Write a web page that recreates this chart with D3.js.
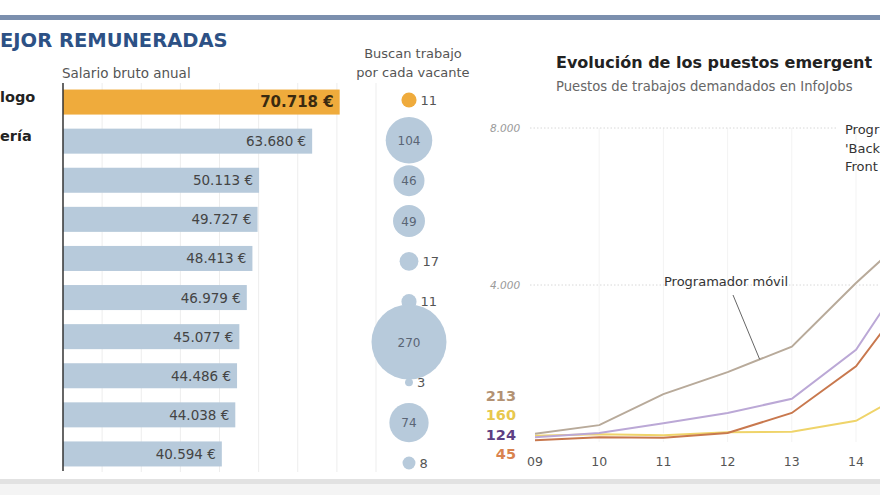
<!DOCTYPE html>
<html><head><meta charset="utf-8">
<script src="https://cdn.jsdelivr.net/npm/d3@7"></script>
<style>
html,body{margin:0;padding:0;background:#fff;}
svg{display:block;font-family:"DejaVu Sans",Verdana,sans-serif;}
</style></head>
<body><svg id="c" width="880" height="495"></svg>
<script>
// ---- data ----
const categories = ["logo","ería","","","","","","","",""];
const salaries = [70718,63680,50113,49727,48413,46979,45077,44486,44038,40594];
const salaryLabels = ["70.718 €","63.680 €","50.113 €","49.727 €","48.413 €","46.979 €","45.077 €","44.486 €","44.038 €","40.594 €"];
const seekers = [11,104,46,49,17,11,270,3,74,8];
const years = [2009,2010,2011,2012,2013,2014,2015];
const yearLabels = ["09","10","11","12","13","14",""];
const movil    = [213,430,1220,1780,2430,4050,5550];
const backend  = [124,230,480,740,1100,2350,4800];
const frontend = [45,120,110,230,740,1930,4100];
const otro     = [160,200,170,250,260,540,1450];
const startLabels = ["213","160","124","45"];
const yTicks = [4000,8000];
const yTickLabels = ["4.000","8.000"];
const backendNote = ["Progr","'Back","Front"];

const svg = d3.select("#c");

// frame
svg.append("rect").attr("x",0).attr("y",15).attr("width",880).attr("height",5).attr("fill","#7b8fae");
svg.append("rect").attr("x",0).attr("y",479).attr("width",880).attr("height",5).attr("fill","#e2e2e2");
svg.append("rect").attr("x",0).attr("y",484).attr("width",880).attr("height",11).attr("fill","#f4f4f4");

// title
svg.append("text").attr("x",0).attr("y",47).text("EJOR REMUNERADAS")
  .attr("font-size",19.5).attr("font-weight","bold").attr("fill","#2d5185");

// ---- bar chart ----
const x = d3.scaleLinear().domain([0,80000]).range([63,376]);
const idx = d3.range(categories.length);
const y = d3.scaleBand().domain(idx).range([82.5,473.5]).paddingInner(0.36).paddingOuter(0.18);

svg.append("g").selectAll("line").data(d3.range(10000,80001,10000)).join("line")
  .attr("x1",d=>x(d)).attr("x2",d=>x(d)).attr("y1",83).attr("y2",472)
  .attr("stroke","#ededed").attr("stroke-width",1);

svg.append("text").attr("x",62).attr("y",78).text("Salario bruto anual")
  .attr("font-size",13.5).attr("fill","#555");

svg.append("g").selectAll("rect").data(idx).join("rect")
  .attr("x",x(0)).attr("y",i=>y(i)).attr("width",i=>x(salaries[i])-x(0)).attr("height",y.bandwidth())
  .attr("fill",i=>i===0?"#efab3c":"#b7cadb");

svg.append("g").selectAll("text").data(idx).join("text")
  .attr("x",i=>x(salaries[i])-6).attr("y",i=>y(i)+y.bandwidth()/2+5)
  .attr("text-anchor","end").text(i=>salaryLabels[i])
  .attr("font-size",i=>i===0?15:13.5).attr("font-weight",i=>i===0?"bold":"normal")
  .attr("fill",i=>i===0?"#3a2a10":"#444");

svg.append("g").selectAll("text").data(idx).join("text")
  .attr("x",0).attr("y",i=>y(i)+y.bandwidth()/2)
  .text(i=>categories[i]).attr("font-size",14.5).attr("font-weight","bold").attr("fill","#222");

svg.append("line").attr("x1",63).attr("x2",63).attr("y1",83).attr("y2",471)
  .attr("stroke","#333").attr("stroke-width",1.5);

// ---- bubbles ----
svg.append("text").attr("x",413).attr("y",58).attr("text-anchor","middle").text("Buscan trabajo")
  .attr("font-size",13).attr("fill","#555");
svg.append("text").attr("x",413).attr("y",77).attr("text-anchor","middle").text("por cada vacante")
  .attr("font-size",13).attr("fill","#555");

const r = d3.scaleSqrt().domain([0,270]).range([0,37.5]);
const yb = d3.scalePoint().domain(idx).range([100,463]);
const bx = 409;
svg.append("g").selectAll("circle").data(idx).join("circle")
  .attr("cx",bx).attr("cy",i=>yb(i)).attr("r",i=>r(seekers[i]))
  .attr("fill",i=>i===0?"#efab3c":"#b7cadb");
svg.append("g").selectAll("text").data(idx).join("text")
  .attr("x",i=>seekers[i]>=40?bx:bx+r(seekers[i])+4)
  .attr("y",i=>yb(i)+4.5)
  .attr("text-anchor",i=>seekers[i]>=40?"middle":"start")
  .text(i=>seekers[i]).attr("font-size",i=>seekers[i]>=40?12:13)
  .attr("fill",i=>seekers[i]>=40?"#5a6575":"#555");

// ---- line chart ----
svg.append("text").attr("x",556).attr("y",68).text("Evolución de los puestos emergent")
  .attr("font-size",16).attr("font-weight","bold").attr("fill","#222");
svg.append("text").attr("x",556).attr("y",91).text("Puestos de trabajos demandados en InfoJobs")
  .attr("font-size",13.2).attr("fill","#666");

const lx = d3.scaleLinear().domain([2009,2015]).range([535,920.2]);
const ly = d3.scaleLinear().domain([0,8000]).range([442,128]);

svg.append("g").selectAll("line").data(years.slice(1,6)).join("line")
  .attr("x1",d=>lx(d)).attr("x2",d=>lx(d)).attr("y1",ly(8000)).attr("y2",442)
  .attr("stroke","#f3f3f3").attr("stroke-width",1);

svg.append("g").selectAll("line").data(yTicks).join("line")
  .attr("x1",530).attr("x2",d=>d===8000?838:880).attr("y1",d=>ly(d)).attr("y2",d=>ly(d))
  .attr("stroke","#d8d8d8").attr("stroke-width",1).attr("stroke-dasharray","1.5,2");
svg.append("g").selectAll("text").data(yTicks).join("text")
  .attr("x",490).attr("y",d=>ly(d)+4).text((d,i)=>yTickLabels[i])
  .attr("font-size",10.5).attr("font-style","italic").attr("fill","#999");

svg.append("g").selectAll("text").data(years.filter((d,i)=>yearLabels[i])).join("text")
  .attr("x",d=>lx(d)).attr("y",466).attr("text-anchor","middle").text((d,i)=>yearLabels[i])
  .attr("font-size",12.5).attr("fill","#555");

const series = [
  {v:otro, c:"#efd46a"},
  {v:frontend, c:"#c8784e"},
  {v:backend, c:"#bba8d6"},
  {v:movil, c:"#b8aa9a"}
];
const line = d3.line().x((d,i)=>lx(years[i])).y(d=>ly(d));
svg.append("g").selectAll("path").data(series).join("path")
  .attr("d",s=>line(s.v)).attr("fill","none").attr("stroke","#fff").attr("stroke-width",4).attr("opacity",0.8);
svg.append("g").selectAll("path").data(series).join("path")
  .attr("d",s=>line(s.v)).attr("fill","none").attr("stroke",s=>s.c).attr("stroke-width",2);

// start value labels
const startColors = ["#b39273","#e8c84e","#5e3f84","#d9834e"];
svg.append("g").selectAll("text").data(startLabels).join("text")
  .attr("x",516).attr("y",(d,i)=>401+i*19.3).attr("text-anchor","end").text(d=>d)
  .attr("font-size",14.5).attr("font-weight","bold").attr("fill",(d,i)=>startColors[i]);

// annotation Programador móvil
const tA = 2012.5;
const vA = (movil[3]+movil[4])/2;
svg.append("line").attr("x1",733).attr("y1",295).attr("x2",lx(tA)).attr("y2",ly(vA))
  .attr("stroke","#666").attr("stroke-width",1);
svg.append("text").attr("x",726).attr("y",286).attr("text-anchor","middle").text("Programador móvil")
  .attr("font-size",13).attr("fill","#333");

svg.append("g").selectAll("text").data(backendNote).join("text")
  .attr("x",845).attr("y",(d,i)=>134+i*18.5).text(d=>d)
  .attr("font-size",13).attr("fill","#333");
</script></body></html>
